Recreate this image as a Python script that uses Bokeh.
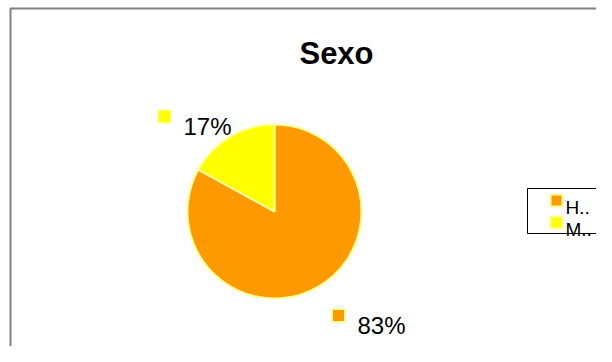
import numpy as np
from bokeh.plotting import figure
from bokeh.models import ColumnDataSource, Range1d
from bokeh.core.properties import value
from bokeh.embed import file_html
from bokeh.resources import INLINE

# ---- data ----
title_text = "Sexo"
categories = ["Hombre", "Mujer"]
legend_labels = ["H..", "M.."]
shares = [83, 17]
colors = ["#FF9900", "#FFFF00"]

# ---- layout (figure pixels, y up) ----
W, H = 596, 346
cx, cy, R = 274, 135, 87
FONT = "Liberation Sans"
EDGE = "#FFFF99"

p = figure(width=W, height=H, output_backend="svg", toolbar_location=None,
           x_range=Range1d(0, W), y_range=Range1d(0, H), min_border=0)
p.axis.visible = False
p.grid.visible = False
p.outline_line_color = None
p.background_fill_color = "white"
p.border_fill_color = "white"

# chart area border
p.quad(left=[10], right=[W + 40], bottom=[-40], top=[H - 8], fill_color=None,
       line_color="#808080", line_width=2)

vals = np.array(shares, dtype=float)
frac = vals / vals.sum()
ang = 2 * np.pi * frac
# first slice starts at top and runs clockwise
ends = np.pi / 2 - np.concatenate([[0], np.cumsum(ang)[:-1]])
starts = ends - ang
src = ColumnDataSource(dict(cat=categories, start=starts, end=ends, color=colors,
                            label=[f"{int(v)}%" for v in shares]))
p.wedge(x=cx, y=cy, radius=R, start_angle="start", end_angle="end",
        fill_color="color", line_color=EDGE, line_width=2, source=src)

# title
p.text(x=[336], y=[293], text=[title_text], text_font=value(FONT),
       text_font_size="31px", text_font_style="bold", text_align="center",
       text_baseline="alphabetic", text_color="black")

# data labels (offsets from pie centre, Excel best-fit places)
lab_off = [(64, -104), (-110, 95)]
for i, (dx, dy) in enumerate(lab_off):
    sx, sy = cx + dx, cy + dy
    p.scatter(x=[sx], y=[sy], marker="square", size=13, fill_color=colors[i],
              line_color=EDGE, line_width=2)
    p.text(x=[sx + 19], y=[sy - 10], text=[src.data["label"][i]], text_font=value(FONT),
           text_font_size="24px", text_baseline="alphabetic", text_align="left",
           text_color="black")

# legend box
LX = 527
p.quad(left=[LX], right=[W + 30], bottom=[113], top=[158], fill_color="white",
       line_color="black", line_width=1)
for i, lab in enumerate(legend_labels):
    ly = 146 - 22 * i
    p.scatter(x=[LX + 29], y=[ly], marker="square", size=12, fill_color=colors[i],
              line_color=EDGE, line_width=2)
    p.text(x=[LX + 38], y=[ly - 7], text=[lab], text_font=value(FONT),
           text_font_size="19px", text_baseline="alphabetic", text_align="left",
           text_color="black")

open("out.html", "w").write(file_html(p, INLINE))
